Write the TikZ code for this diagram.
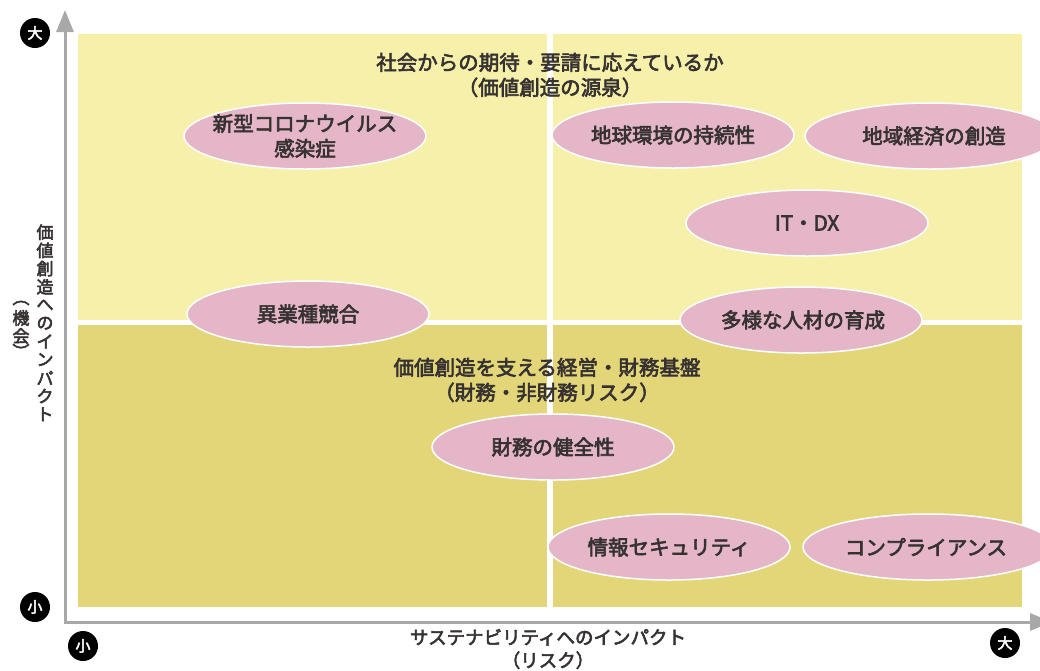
\documentclass[tikz,border=0pt]{standalone}
\usepackage{fontspec}
\newfontfamily\jp[FakeBold=3]{Noto Sans CJK JP}
\usetikzlibrary{shapes.geometric,arrows.meta}
\definecolor{lightY}{RGB}{246,240,170}
\definecolor{darkY}{RGB}{227,214,120}
\definecolor{pinkE}{RGB}{228,182,199}
\definecolor{axisG}{RGB}{168,168,168}
\definecolor{txt}{RGB}{55,50,50}
\tikzset{
  lab/.style={font=\jp\fontsize{20.5}{25}\selectfont, text=txt, align=center, inner sep=0pt},
  axlab/.style={font=\jp\fontsize{18.5}{23}\selectfont, text=txt, align=center, inner sep=0pt},
  vch/.style={font=\jp\fontsize{17}{18}\selectfont, text=txt, inner sep=0pt},
  topic/.style={ellipse, fill=pinkE, draw=white, line width=1.5pt, minimum width=242pt, minimum height=66pt, inner sep=0pt},
  badge/.style={circle, fill=black, minimum size=30pt, inner sep=0pt, text=white, font=\jp\fontsize{15}{15}\selectfont},
  axisline/.style={draw=axisG, line width=3pt, {Triangle[length=22pt,width=17pt,fill=axisG]}-{Triangle[length=22pt,width=17pt,fill=axisG]}}
}
\begin{document}
\begin{tikzpicture}[x=1pt,y=-1pt]
\useasboundingbox (0,0) rectangle (1040,670);
\fill[white] (0,0) rectangle (1040,670);
% quadrants
\fill[lightY] (78,34) rectangle (1022,607);
\fill[darkY] (78,322) rectangle (1022,607);
\fill[white] (547,34) rectangle (553,607);
\fill[white] (78,320) rectangle (1022,325);
% axes
\coordinate (origin) at (65,622);
\coordinate (ytip) at (65,10);
\coordinate (xtip) at (1052,622);
\draw[axisline] (ytip) -- (origin) -- (xtip);
% badges
\node[badge] (ybig) at (35,33) {大};
\node[badge] (ysmall) at (35,607) {小};
\node[badge] (xsmall) at (83,646) {小};
\node[badge] (xbig) at (1005,643) {大};
% quadrant titles
\node[lab] (toptitle) at (550,75) {社会からの期待・要請に応えているか\\（価値創造の源泉）};
\node[lab] (midtitle) at (547,380) {価値創造を支える経営・財務基盤\\（財務・非財務リスク）};
% topics
\node[topic] (e1) at (305,136) {};
\node[lab] (t1) at (e1) {新型コロナウイルス\\感染症};
\node[topic] (e2) at (308,314) {};
\node[lab] (t2) at (e2) {異業種競合};
\node[topic] (e3) at (673,135) {};
\node[lab] (t3) at (e3) {地球環境の持続性};
\node[topic, minimum width=250pt] (e4) at (930,136) {};
\node[lab] (t4) at (934,136) {地域経済の創造};
\node[topic] (e5) at (807,223) {};
\node[lab] (t5) at (e5) {IT・DX};
\node[topic] (e6) at (801,320) {};
\node[lab] (t6) at (803,320) {多様な人材の育成};
\node[topic] (e7) at (553,447) {};
\node[lab] (t7) at (e7) {財務の健全性};
\node[topic] (e8) at (669,547) {};
\node[lab] (t8) at (e8) {情報セキュリティ};
\node[topic, minimum width=250pt] (e9) at (928,547) {};
\node[lab] (t9) at (926,547) {コンプライアンス};
% x axis label
\node[axlab] (xlab) at (548,649) {サステナビリティへのインパクト\\（リスク）};
% y axis label (vertical)
\foreach \c [count=\i] in {価,値,創,造,へ,の,イ,ン,パ,ク,ト}
  \node[vch] (yv\i) at (45,{214+18.2*\i}) {\c};
\node[vch] (yp1) at (21,303) {︵};
\node[vch] (yp2) at (21,318) {機};
\node[vch] (yp3) at (21,336) {会};
\node[vch] (yp4) at (21,351) {︶};
\end{tikzpicture}
\end{document}
